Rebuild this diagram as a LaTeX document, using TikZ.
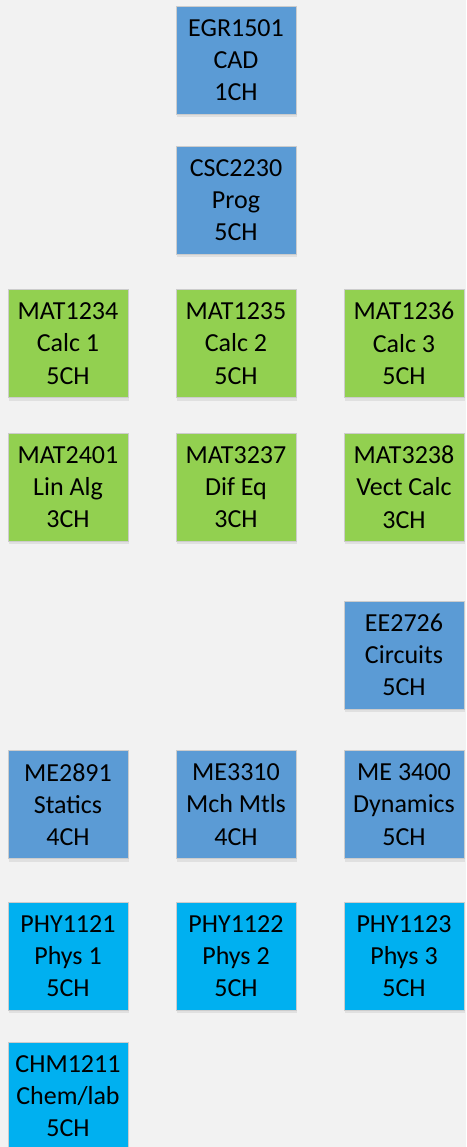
\documentclass[tikz,border=0pt]{standalone}
\usepackage{fontspec}
\setmainfont{Carlito}
\usetikzlibrary{shadows}
\definecolor{bgcol}{HTML}{F2F2F2}
\definecolor{blueb}{HTML}{5B9BD5}
\definecolor{greenb}{HTML}{92D050}
\definecolor{cyanb}{HTML}{00B0F0}
\tikzset{
    course/.style={draw=black!20, line width=0.6pt, minimum width=120pt, minimum height=108pt,
        inner sep=0pt, align=center, font=\fontsize{26}{32.3}\selectfont,
        drop shadow={shadow xshift=1pt, shadow yshift=-3pt, opacity=0.07, fill=black}},
    egr/.style={course, fill=blueb},
    mth/.style={course, fill=greenb},
    phy/.style={course, fill=cyanb}
}
\begin{document}
\begin{tikzpicture}[x=1pt, y=-1pt]
        \fill[bgcol] (0, 0) rectangle (466, 1147);
        \useasboundingbox (0, 0) rectangle (466, 1147);

        %%top
        \node[egr] (egr1501) at (236, 60){EGR1501\\CAD\\1CH};
        \node[egr] (csc2230) at (236, 200){CSC2230\\Prog\\5CH};

        %%calc
        \node[mth] (mat1234) at (68, 343.5){MAT1234\\Calc 1\\5CH};
        \node[mth] (mat1235) at (236, 343.5){MAT1235\\Calc 2\\5CH};
        \node[mth] (mat1236) at (404, 343.5){MAT1236\\Calc 3\\5CH};

        %%upper math
        \node[mth] (mat2401) at (68, 487){MAT2401\\Lin Alg\\3CH};
        \node[mth] (mat3237) at (236, 487){MAT3237\\Dif Eq\\3CH};
        \node[mth] (mat3238) at (404, 487){MAT3238\\Vect Calc\\3CH};

        %%circuits
        \node[egr] (ee2726) at (404, 655){EE2726\\Circuits\\5CH};

        %%mechanics
        \node[egr] (me2891) at (68, 804.5){ME2891\\Statics\\4CH};
        \node[egr] (me3310) at (236, 804.5){ME3310\\Mch Mtls\\4CH};
        \node[egr] (me3400) at (404, 804.5){ME 3400\\Dynamics\\5CH};

        %%physics
        \node[phy] (phy1121) at (68, 956){PHY1121\\Phys 1\\5CH};
        \node[phy] (phy1122) at (236, 956){PHY1122\\Phys 2\\5CH};
        \node[phy] (phy1123) at (404, 956){PHY1123\\Phys 3\\5CH};

        %%chem
        \node[phy] (chm1211) at (68, 1096){CHM1211\\Chem/lab\\5CH};
\end{tikzpicture}
\end{document}
